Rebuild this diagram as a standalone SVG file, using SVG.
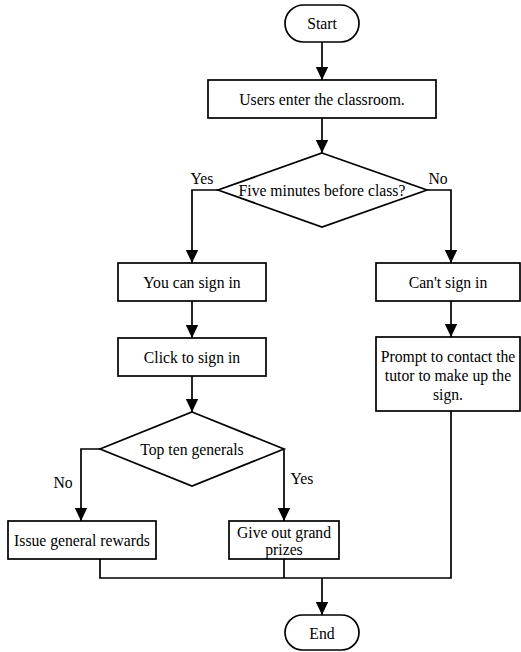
<svg xmlns="http://www.w3.org/2000/svg" width="521" height="652" viewBox="0 0 521 652" font-family="'Liberation Serif', 'Times New Roman', serif">
  <defs>
    <marker id="arrow" markerWidth="14" markerHeight="14" refX="13" refY="7" orient="auto" markerUnits="userSpaceOnUse">
      <path d="M0,0.8 L13,7 L0,13.2 Z" fill="#000"/>
    </marker>
    <style>
      .shape { fill: #fff; stroke: #000; stroke-width: 1.7; }
      .edge { fill: none; stroke: #000; stroke-width: 1.7; }
      .arrow { marker-end: url(#arrow); }
      text { font-family: "Liberation Serif", "Times New Roman", serif; font-size: 15.7px; fill: #000; text-anchor: middle; dominant-baseline: central; }
    </style>
  </defs>
  <rect width="521" height="652" fill="#fff"/>

  <!-- connectors -->
  <g id="connectors">
    <line class="edge arrow" x1="322" y1="42" x2="322" y2="80"/>
    <line class="edge arrow" x1="322" y1="118" x2="322" y2="153"/>
    <polyline class="edge arrow" points="218,190 192,190 192,263"/>
    <polyline class="edge arrow" points="427,190 451,190 451,263"/>
    <line class="edge arrow" x1="192" y1="301" x2="192" y2="338"/>
    <line class="edge arrow" x1="192" y1="376" x2="192" y2="412"/>
    <line class="edge arrow" x1="451" y1="301" x2="451" y2="337"/>
    <polyline class="edge arrow" points="100,449 81,449 81,521"/>
    <polyline class="edge arrow" points="284,449 284,521"/>
    <polyline class="edge" points="100,559 100,578 451,578 451,411"/>
    <line class="edge" x1="284" y1="559" x2="284" y2="578"/>
    <line class="edge arrow" x1="322" y1="578" x2="322" y2="615"/>
    <text x="202" y="178">Yes</text>
    <text x="438" y="178">No</text>
    <text x="63" y="482">No</text>
    <text x="302" y="478">Yes</text>
  </g>

  <g id="start">
    <rect class="shape" x="285" y="5" width="74" height="37" rx="18.5"/>
    <text x="322" y="23.5">Start</text>
  </g>

  <g id="enter">
    <rect class="shape" x="208" y="80" width="228" height="38"/>
    <text x="322" y="99">Users enter the classroom.</text>
  </g>

  <g id="check-time">
    <polygon class="shape" points="322,153 427,190 322,227 218,190"/>
    <text x="322" y="190">Five minutes before class?</text>
  </g>

  <g id="can-sign">
    <rect class="shape" x="118" y="263" width="148" height="38"/>
    <text x="192" y="282">You can sign in</text>
  </g>

  <g id="click-sign">
    <rect class="shape" x="118" y="338" width="148" height="38"/>
    <text x="192" y="357">Click to sign in</text>
  </g>

  <g id="top-ten">
    <polygon class="shape" points="192,412 284,449 192,486 100,449"/>
    <text x="192" y="449">Top ten generals</text>
  </g>

  <g id="general-rewards">
    <rect class="shape" x="8" y="521" width="148" height="38"/>
    <text x="82" y="540">Issue general rewards</text>
  </g>

  <g id="grand-prizes">
    <rect class="shape" x="229" y="521" width="110" height="38"/>
    <text x="284" y="532">Give out grand</text>
    <text x="284" y="549">prizes</text>
  </g>

  <g id="cannot-sign">
    <rect class="shape" x="376" y="263" width="144" height="38"/>
    <text x="448" y="282">Can't sign in</text>
  </g>

  <g id="prompt">
    <rect class="shape" x="376" y="337" width="144" height="74"/>
    <text x="448" y="356">Prompt to contact the</text>
    <text x="448" y="375">tutor to make up the</text>
    <text x="448" y="394">sign.</text>
  </g>

  <g id="end">
    <rect class="shape" x="285" y="615" width="74" height="35" rx="17.5"/>
    <text x="322" y="633">End</text>
  </g>
</svg>
